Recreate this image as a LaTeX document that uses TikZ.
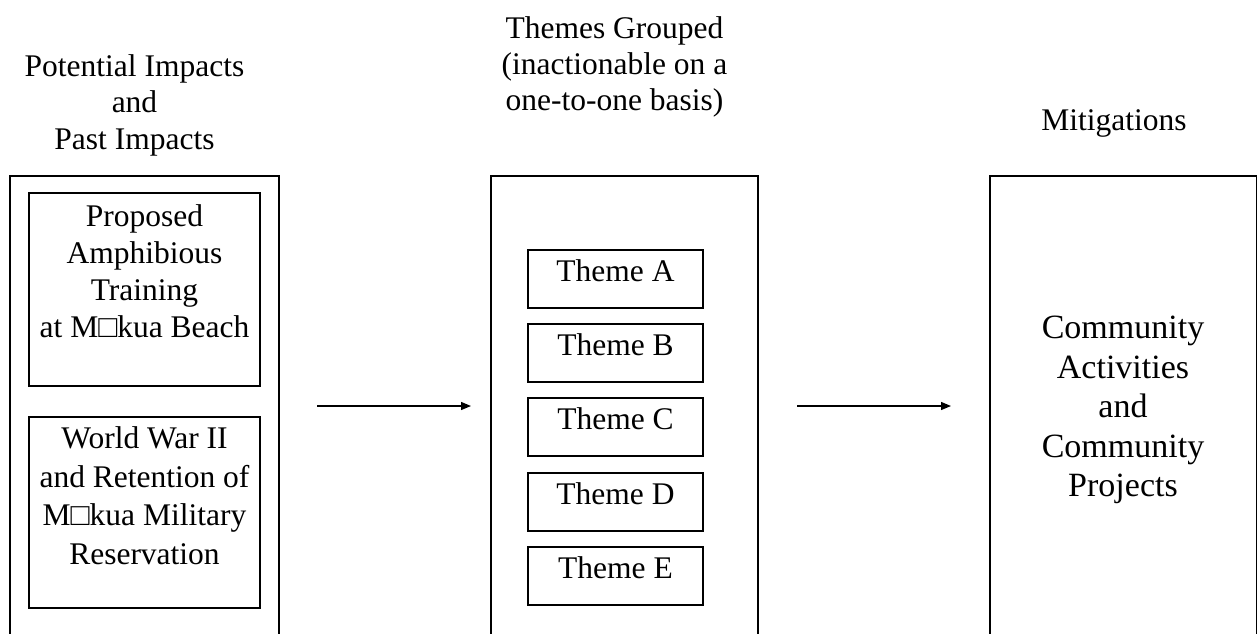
\documentclass[tikz,border=0pt]{standalone}
\usepackage{fontspec}
\setmainfont{Liberation Serif}
\usetikzlibrary{arrows.meta}
\begin{document}
\begin{tikzpicture}[x=1pt,y=-1pt,
  box/.style={draw,line width=1.4pt,rectangle,inner sep=0pt,outer sep=0pt,anchor=north west},
  head/.style={font=\fontsize{31.5}{36.5}\selectfont,align=center,inner sep=0pt,anchor=north},
  body/.style={font=\fontsize{31.5}{37}\selectfont,align=center,inner sep=0pt,anchor=north},
  themebox/.style={box,minimum width=175pt,minimum height=58pt},
  themetxt/.style={font=\fontsize{31.5}{37}\selectfont,inner sep=0pt,anchor=base},
  arr/.style={-{Triangle[length=10pt,width=8pt]},line width=1.3pt}]
\useasboundingbox (0,0) rectangle (1258,634);
\clip (0,0) rectangle (1258,634);
% headings
\node[head] (h1) at (134.5,50.5) {\strut Potential Impacts\\and\\Past Impacts};
\node[body,font=\fontsize{31.5}{36}\selectfont] (h2) at (614.5,12.8) {\strut Themes Grouped\\(inactionable on a\\one-to-one basis)};
\node[body] (h3) at (1114,104) {\strut Mitigations};
% left column
\node[box,minimum width=269pt,minimum height=500pt] (left) at (10,176) {};
\node[box,minimum width=231pt,minimum height=193pt] (p1) at (29,193) {};
\node[body] (p1t) at (144.5,200.8) {\strut Proposed\\Amphibious\\Training\\at M□kua Beach};
\node[box,minimum width=231pt,minimum height=191pt] (p2) at (29,417) {};
\node[body,font=\fontsize{31.5}{38.5}\selectfont] (p2t) at (144.5,421.5) {\strut World War II\\and Retention of\\M□kua Military\\Reservation};
% middle column
\node[box,minimum width=267pt,minimum height=500pt] (mid) at (491,176) {};
\node[themebox] (ta) at (528,250) {};
\node[themetxt] (tat) at (615.5,281) {Theme A};
\node[themebox] (tb) at (528,324) {};
\node[themetxt] (tbt) at (615.5,355) {Theme B};
\node[themebox] (tc) at (528,398) {};
\node[themetxt] (tct) at (615.5,429) {Theme C};
\node[themebox] (td) at (528,473) {};
\node[themetxt] (tdt) at (615.5,504) {Theme D};
\node[themebox] (te) at (528,547) {};
\node[themetxt] (tet) at (615.5,578) {Theme E};
% right column
\node[box,minimum width=266.5pt,minimum height=500pt] (right) at (990,176) {};
\node[body,font=\fontsize{34}{39.5}\selectfont] (rt) at (1123,311) {\strut Community\\Activities\\and\\Community\\Projects};
% arrows
\coordinate (a1s) at (317,406);
\coordinate (a1e) at (471,406);
\coordinate (a2s) at (797,406);
\coordinate (a2e) at (951,406);
\draw[arr] (a1s) -- (a1e);
\draw[arr] (a2s) -- (a2e);
\end{tikzpicture}
\end{document}
